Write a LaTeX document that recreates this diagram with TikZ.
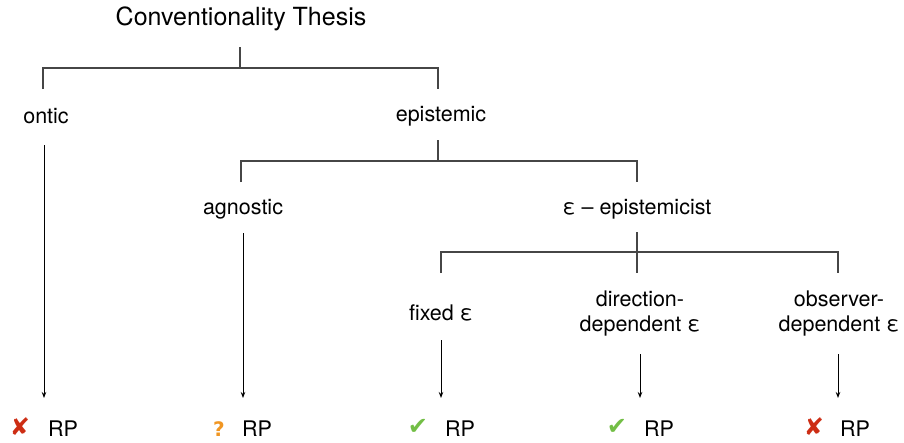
\documentclass[tikz,border=0pt]{standalone}
\usepackage{fontspec}
\setmainfont{TeX Gyre Heros}
\newfontfamily\symfont{DejaVu Sans}
\usetikzlibrary{arrows.meta}
\definecolor{linegray}{RGB}{70,70,70}
\definecolor{crossred}{RGB}{205,45,20}
\definecolor{tickgreen}{RGB}{115,190,70}
\definecolor{qorange}{RGB}{240,150,35}
\begin{document}
\begin{tikzpicture}[x=1pt,y=-1pt,
  lbl/.style={inner sep=0pt,font=\fontsize{21.5}{25}\selectfont,align=center},
  ttl/.style={inner sep=0pt,font=\fontsize{25}{28}\selectfont},
  br/.style={draw=linegray,line width=1.2pt},
  arr/.style={draw=black,line width=0.9pt,-{Stealth[length=6pt,width=4.5pt]}},
  res/.style={inner sep=0pt,font=\fontsize{21.5}{25}\selectfont},
  sym/.style={inner sep=0pt,font=\symfont\fontsize{24}{27}\selectfont}]
\useasboundingbox (0,0) rectangle (904,442);
% texts
\node[ttl] (title) at (241,19) {Conventionality Thesis};
\node[lbl] (ontic) at (46,116) {ontic};
\node[lbl] (epis) at (441,116) {epistemic};
\node[lbl] (agn) at (243,209) {agnostic};
\node[lbl] (eps) at (637,209) {ε – epistemicist};
\node[lbl] (fixed) at (441,313) {fixed ε};
\node[lbl] (dir) at (640,314) {direction-\\dependent ε};
\node[lbl] (obs) at (839,314) {observer-\\dependent ε};
% coordinates
\coordinate (t0) at (240,47);
\coordinate (t1) at (240,68);
\coordinate (tl) at (43,68);
\coordinate (tr) at (438,68);
\coordinate (tld) at (43,89);
\coordinate (trd) at (438,89);
\coordinate (e0) at (438,140);
\coordinate (e1) at (438,161);
\coordinate (el) at (241,161);
\coordinate (er) at (637,161);
\coordinate (eld) at (241,182);
\coordinate (erd) at (637,182);
\coordinate (p0) at (637,232);
\coordinate (p1) at (637,252);
\coordinate (p2) at (637,273);
\coordinate (pl) at (441,252);
\coordinate (pr) at (838,252);
\coordinate (pld) at (441,273);
\coordinate (prd) at (838,273);
% brackets
\draw[br] (t0) -- (t1);
\draw[br] (tld) -- (tl) -- (tr) -- (trd);
\draw[br] (e0) -- (e1);
\draw[br] (eld) -- (el) -- (er) -- (erd);
\draw[br] (p0) -- (p2);
\draw[br] (pld) -- (pl) -- (pr) -- (prd);
% results
\node[sym,text=crossred] (s1) at (20,427) {✘};
\node[res] (r1) at (63,429) {RP};
\node[sym,text=qorange,font=\symfont\bfseries\fontsize{20}{22}\selectfont] (s2) at (219,429) {?};
\node[res] (r2) at (257,429) {RP};
\node[sym,text=tickgreen] (s3) at (418,427) {✔};
\node[res] (r3) at (460,429) {RP};
\node[sym,text=tickgreen] (s4) at (617,427) {✔};
\node[res] (r4) at (659,429) {RP};
\node[sym,text=crossred] (s5) at (814,427) {✘};
\node[res] (r5) at (855,429) {RP};
% arrows
\coordinate (a1s) at (44,145);  \coordinate (a1e) at (44,398);
\coordinate (a2s) at (243,233); \coordinate (a2e) at (243,398);
\coordinate (a3s) at (441,340); \coordinate (a3e) at (441,398);
\coordinate (a4s) at (640,354); \coordinate (a4e) at (640,398);
\coordinate (a5s) at (838,354); \coordinate (a5e) at (838,398);
\draw[arr] (a1s) -- (a1e);
\draw[arr] (a2s) -- (a2e);
\draw[arr] (a3s) -- (a3e);
\draw[arr] (a4s) -- (a4e);
\draw[arr] (a5s) -- (a5e);
\end{tikzpicture}
\end{document}
